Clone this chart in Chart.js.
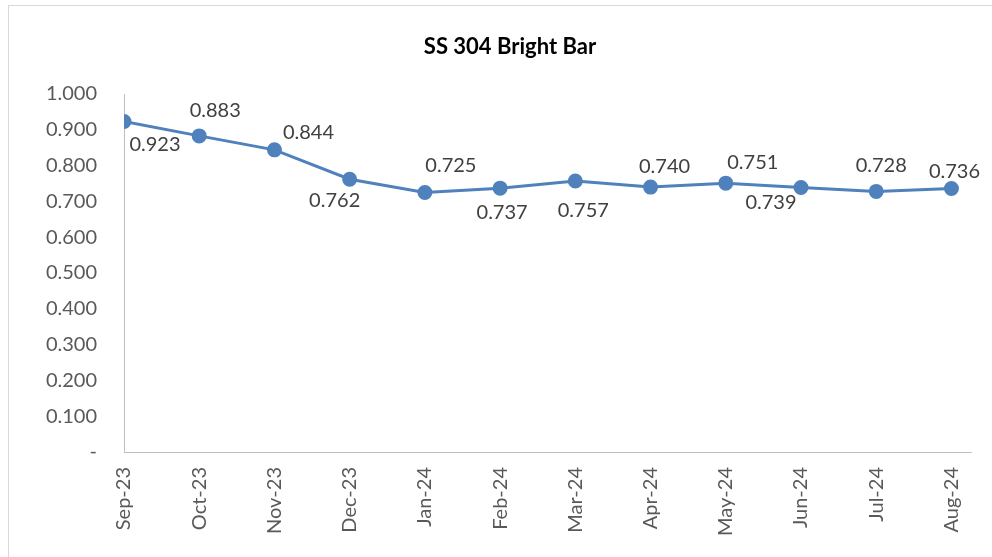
<!DOCTYPE html>
<html lang="en">

<head>
  <meta charset="UTF-8">
  <title>SS 304 Bright Bar</title>
  <script src="https://cdn.jsdelivr.net/npm/chart.js"></script>
  <style>
    body { margin: 0; background: #fff; }
    #frame { position: absolute; left: 8px; top: 5px; width: 1000px; height: 570px; border: 1px solid #d9d9d9; }
    #wrap { position: absolute; left: 0; top: 0; width: 992px; height: 557px; }
  </style>
</head>

<body>
  <div id="frame"></div>
  <div id="wrap"><canvas id="priceChart" width="992" height="557"></canvas></div>

  <script>
    // values
    var chartTitle = 'SS 304 Bright Bar';
    var months = ['Sep-23', 'Oct-23', 'Nov-23', 'Dec-23', 'Jan-24', 'Feb-24',
      'Mar-24', 'Apr-24', 'May-24', 'Jun-24', 'Jul-24', 'Aug-24'];
    var prices = [0.923, 0.883, 0.844, 0.762, 0.725, 0.737, 0.757, 0.740, 0.751, 0.739, 0.728, 0.736];
    var yTicks = [0, 0.1, 0.2, 0.3, 0.4, 0.5, 0.6, 0.7, 0.8, 0.9, 1.0];

    // where each value label sits relative to its point (px)
    var labelOffsets = [[31, 23], [16, -25], [34, -17], [-15, 21], [26, -27], [2, 24],
      [8, 30], [14, -21], [27, -21], [-30, 15], [5, -26], [3, -17]];

    var points = prices.map(function (v, i) { return { x: i, y: v }; });

    // value labels + title centred on the chart frame (like Excel)
    var valueLabels = {
      id: 'valueLabels',
      afterDatasetsDraw: function (chart) {
        var ctx = chart.ctx;
        var meta = chart.getDatasetMeta(0);
        ctx.save();
        ctx.font = '20px Lato';
        ctx.fillStyle = '#404040';
        ctx.textAlign = 'center';
        ctx.textBaseline = 'middle';
        meta.data.forEach(function (pt, i) {
          var off = labelOffsets[i];
          ctx.fillText(prices[i].toFixed(3), pt.x + off[0], pt.y + off[1]);
        });
        ctx.font = 'bold 22px Lato';
        ctx.fillStyle = '#000';
        ctx.fillText(chartTitle, 510, 47);
        ctx.restore();
      }
    };

    var ctx = document.getElementById('priceChart').getContext('2d');
    new Chart(ctx, {
      type: 'line',
      data: {
        datasets: [{
          label: chartTitle,
          data: points,
          borderColor: '#4F81BD',
          backgroundColor: '#4F81BD',
          borderWidth: 3,
          pointRadius: 6,
          pointHoverRadius: 6,
          tension: 0
        }]
      },
      options: {
        responsive: false,
        animation: false,
        layout: { padding: { left: 0, right: 21, top: 94, bottom: 0 } },
        plugins: {
          legend: { display: false },
          tooltip: { enabled: false },
          title: { display: false }
        },
        scales: {
          x: {
            type: 'linear',
            min: 0,
            max: 11.26,
            grid: { display: false, drawTicks: false },
            border: { color: '#bfbfbf', width: 1 },
            afterBuildTicks: function (scale) {
              scale.ticks = months.map(function (m, i) { return { value: i }; });
            },
            ticks: {
              autoSkip: false,
              maxRotation: 90,
              minRotation: 90,
              padding: 15,
              color: '#595959',
              font: { family: 'Lato', size: 20 },
              callback: function (v) { return months[v]; }
            },
            afterFit: function (scale) { scale.height = 105; }
          },
          y: {
            min: 0,
            max: 1,
            grid: { display: false, drawTicks: false },
            border: { color: '#bfbfbf', width: 1 },
            afterBuildTicks: function (scale) {
              scale.ticks = yTicks.map(function (v) { return { value: v }; });
            },
            ticks: {
              padding: 27,
              color: '#595959',
              font: { family: 'Lato', size: 20 },
              callback: function (v) { return v === 0 ? '-' : v.toFixed(3); }
            },
            afterFit: function (scale) { scale.width = 124; }
          }
        }
      },
      plugins: [valueLabels]
    });
  </script>
</body>

</html>
